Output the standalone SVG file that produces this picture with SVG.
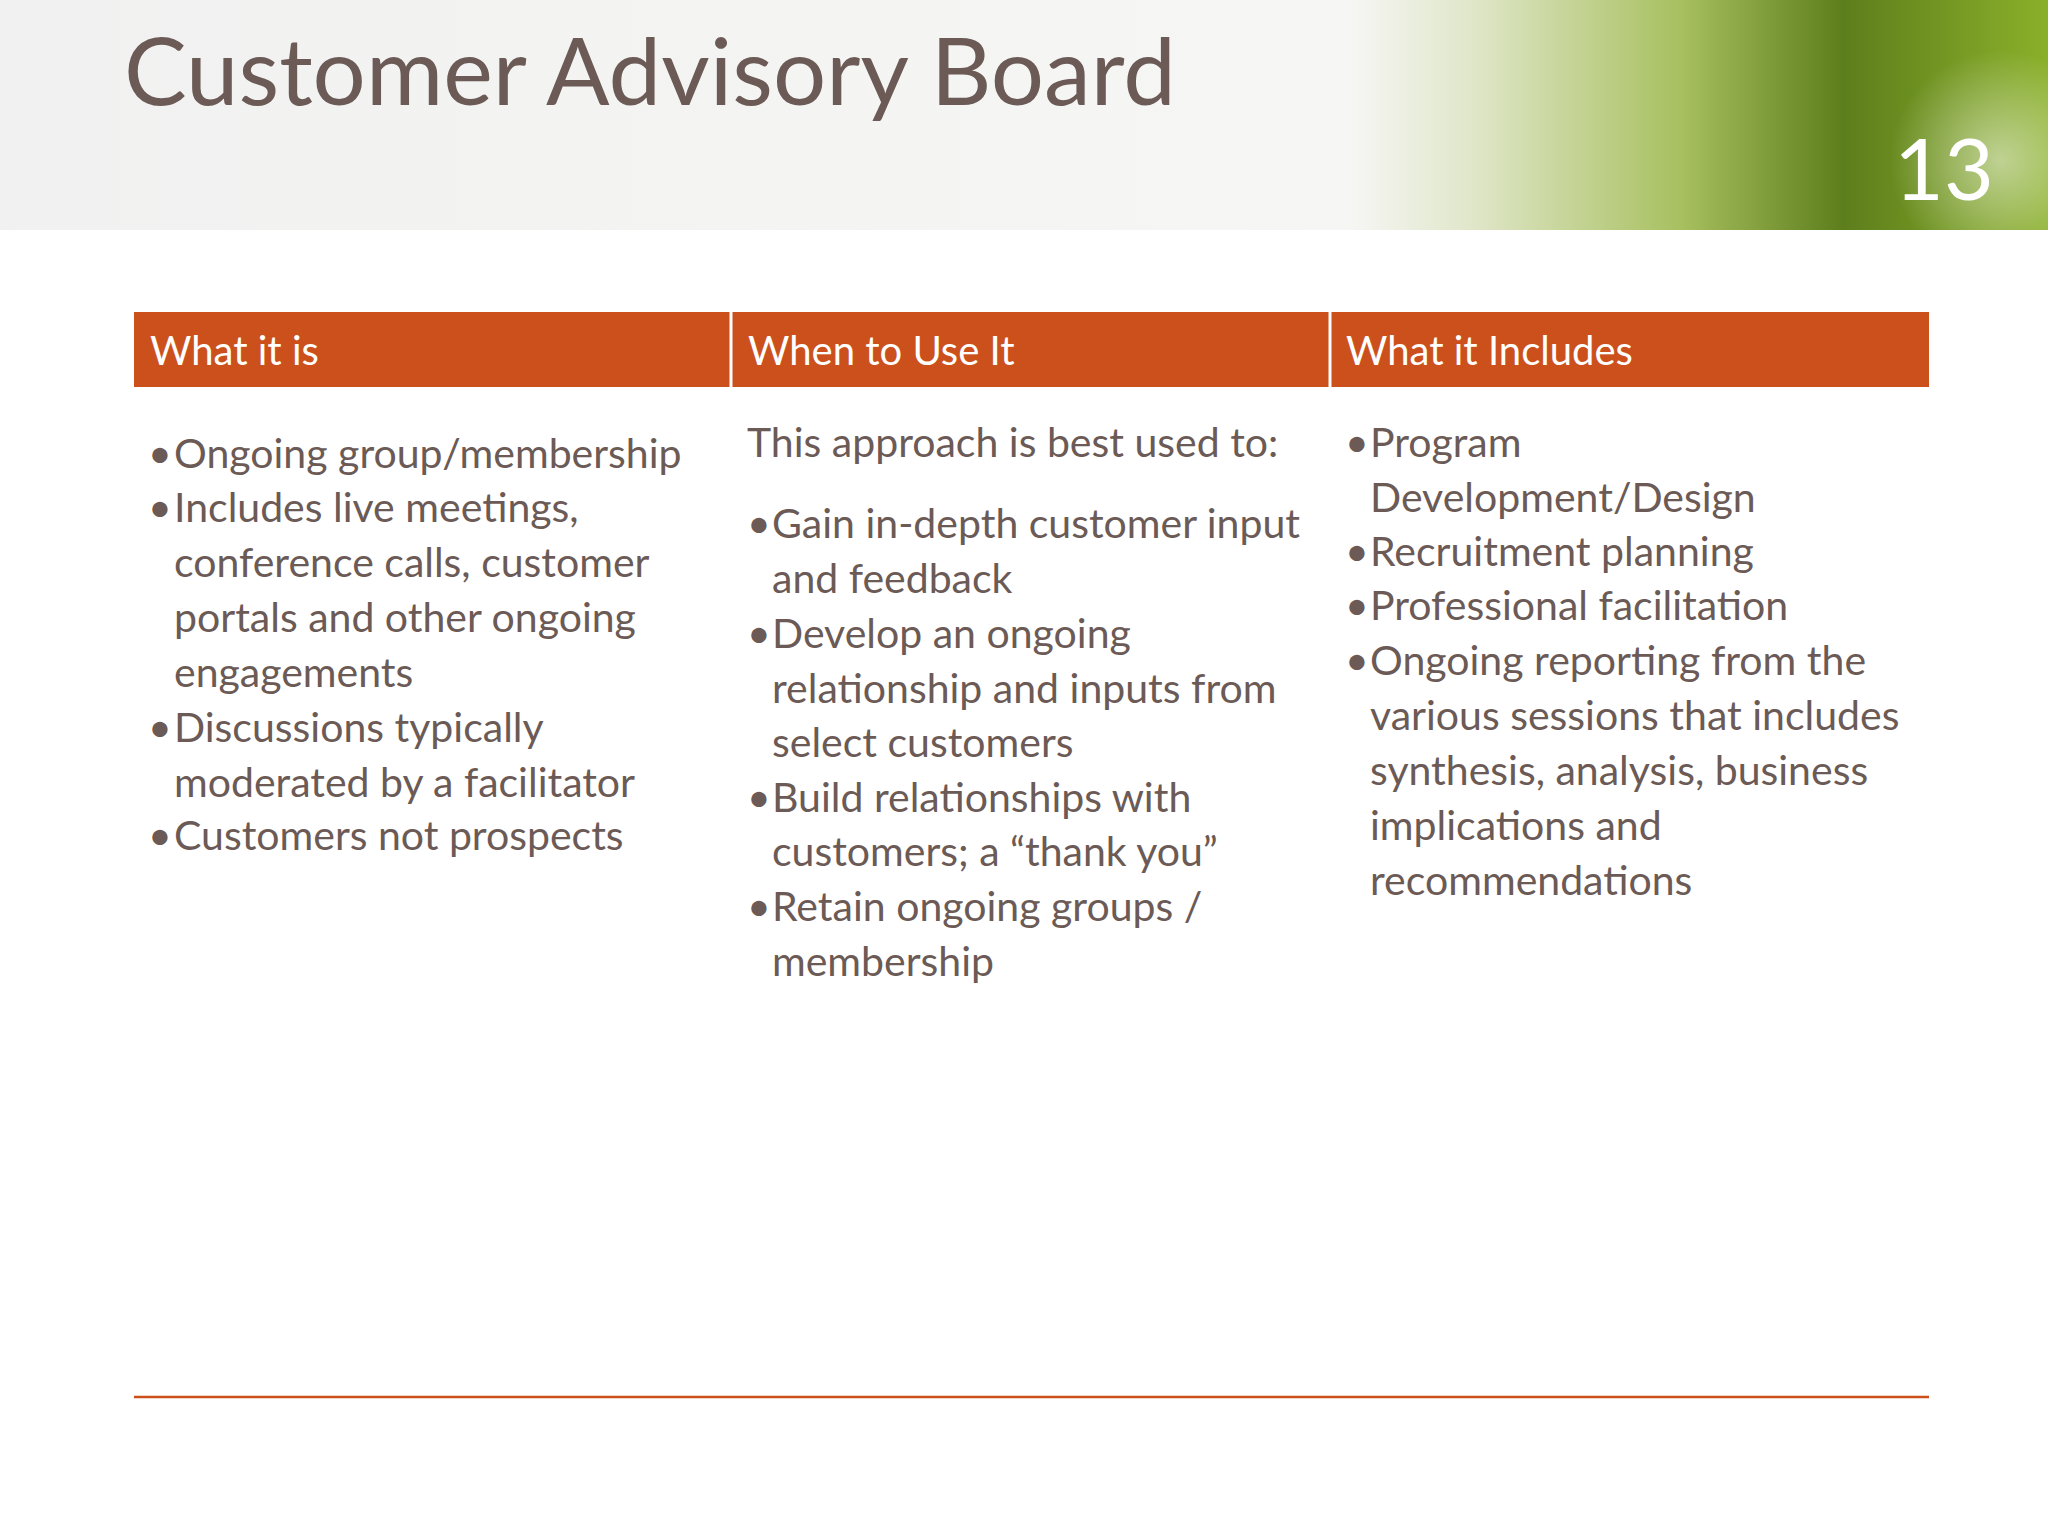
<svg xmlns="http://www.w3.org/2000/svg" width="2048" height="1536" viewBox="0 0 2048 1536">
<defs>
<linearGradient id="bg" x1="0" y1="0" x2="1" y2="0">
<stop offset="0" stop-color="#f1f1f1"/><stop offset="0.66" stop-color="#f6f6f4"/><stop offset="0.72" stop-color="#dfe6c8"/><stop offset="0.82" stop-color="#a8c060"/><stop offset="0.9" stop-color="#5d7e1c"/><stop offset="1" stop-color="#8ab02a"/>
</linearGradient>
<radialGradient id="glow" cx="0.5" cy="0.5" r="0.5"><stop offset="0" stop-color="#ffffff" stop-opacity="0.5"/><stop offset="1" stop-color="#ffffff" stop-opacity="0"/></radialGradient>
<style>
.t{font-family:Lato,"Liberation Sans",sans-serif;fill:#6b5a55;font-size:41px}
.h{font-family:Lato,"Liberation Sans",sans-serif;fill:#ffffff;font-size:40px}
</style>
</defs>
<rect width="2048" height="1536" fill="#ffffff"/>
<rect width="2048" height="230" fill="url(#bg)"/>
<circle cx="2000" cy="160" r="110" fill="url(#glow)"/>
<text x="124" y="105" font-family="Lato,'Liberation Sans',sans-serif" font-size="94" fill="#6b5a55">Customer Advisory Board</text>
<text x="1894" y="200" font-family="Lato,'Liberation Sans',sans-serif" font-size="86" fill="#ffffff">13</text>
<g id="header">
<rect x="134" y="312" width="1795" height="75" fill="#cc501c"/>
<line x1="731" y1="312" x2="731" y2="387" stroke="#fff" stroke-width="3"/>
<line x1="1330" y1="312" x2="1330" y2="387" stroke="#fff" stroke-width="3"/>
<text class="h" x="150" y="365">What it is</text>
<text class="h" x="748" y="365">When to Use It</text>
<text class="h" x="1346" y="365">What it Includes</text>
</g>
<g id="col1" class="t">
<text class="t" x="148" y="468">•</text><text class="t" x="174" y="468">Ongoing group/membership</text>
<text class="t" x="148" y="522">•</text><text class="t" x="174" y="522">Includes live meetings,</text>
<text class="t" x="174" y="577">conference calls, customer</text>
<text class="t" x="174" y="632">portals and other ongoing</text>
<text class="t" x="174" y="687">engagements</text>
<text class="t" x="148" y="742">•</text><text class="t" x="174" y="742">Discussions typically</text>
<text class="t" x="174" y="797">moderated by a facilitator</text>
<text class="t" x="148" y="850">•</text><text class="t" x="174" y="850">Customers not prospects</text>
</g>
<g id="col2">
<text class="t" x="747" y="457">This approach is best used to:</text>
<text class="t" x="747" y="538">•</text><text class="t" x="772" y="538">Gain in-depth customer input</text>
<text class="t" x="772" y="593">and feedback</text>
<text class="t" x="747" y="648">•</text><text class="t" x="772" y="648">Develop an ongoing</text>
<text class="t" x="772" y="703">relationship and inputs from</text>
<text class="t" x="772" y="757">select customers</text>
<text class="t" x="747" y="812">•</text><text class="t" x="772" y="812">Build relationships with</text>
<text class="t" x="772" y="866">customers; a “thank you”</text>
<text class="t" x="747" y="921">•</text><text class="t" x="772" y="921">Retain ongoing groups /</text>
<text class="t" x="772" y="976">membership</text>
</g>
<g id="col3">
<text class="t" x="1345" y="457">•</text><text class="t" x="1370" y="457">Program</text>
<text class="t" x="1370" y="512">Development/Design</text>
<text class="t" x="1345" y="566">•</text><text class="t" x="1370" y="566">Recruitment planning</text>
<text class="t" x="1345" y="620">•</text><text class="t" x="1370" y="620">Professional facilitation</text>
<text class="t" x="1345" y="675">•</text><text class="t" x="1370" y="675">Ongoing reporting from the</text>
<text class="t" x="1370" y="730">various sessions that includes</text>
<text class="t" x="1370" y="785">synthesis, analysis, business</text>
<text class="t" x="1370" y="840">implications and</text>
<text class="t" x="1370" y="895">recommendations</text>
</g>
<line x1="134" y1="1397" x2="1929" y2="1397" stroke="#cc501c" stroke-width="2.5"/>
</svg>
